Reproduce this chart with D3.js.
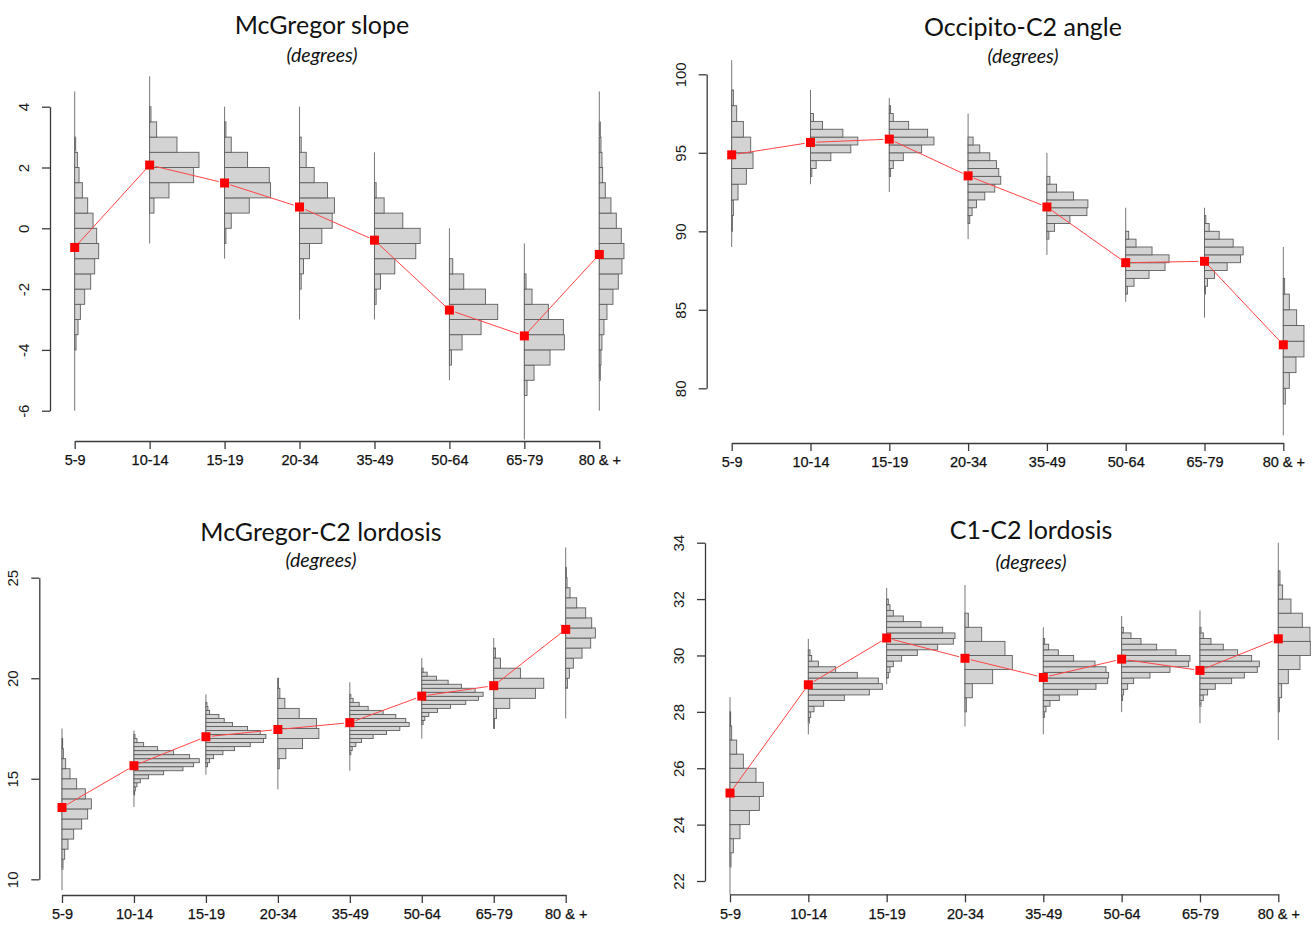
<!DOCTYPE html>
<html>
<head>
<meta charset="utf-8">
<script src="https://cdn.jsdelivr.net/npm/d3@7"></script>
<style>
  body { margin: 0; background: #fff; }
  svg text { font-family: "Liberation Sans", Arial, sans-serif; fill: #111; }
  .title { font-family: Lato, "Open Sans", sans-serif; font-size: 25px; }
  .subtitle { font-family: Lato, "Open Sans", sans-serif; font-size: 19.5px; font-style: italic; }
</style>
</head>
<body>
<svg id="chart" width="1314" height="927"></svg>
<script>
// age groups on the x axis of every panel
const ageGroups = ["5-9", "10-14", "15-19", "20-34", "35-49", "50-64", "65-79", "80 & +"];

// McGregor slope
const slopeTicks = [-6, -4, -2, 0, 2, 4];
const slopeMeans = [-0.63, 2.08, 1.49, 0.70, -0.39, -2.69, -3.54, -0.86];
const slopeRanges = [[-6, 4.5], [-0.5, 5], [-1, 4], [-3, 4], [-3, 2.5], [-5, 0], [-6.95, -0.5], [-6, 4.5]];
const slopeBinStart = [-4, 0.5, -0.5, -2, -2.5, -4.5, -5.5, -5];
const slopeBinWidth = [0.5, 0.5, 0.5, 0.5, 0.5, 0.5, 0.5, 0.5];
const slopeFreq = [
  [4, 10, 17, 30, 48, 60, 72, 66, 55, 39, 23, 13, 8, 3],
  [13, 58, 132, 148, 82, 21, 4],
  [4, 20, 74, 138, 134, 69, 20, 4],
  [5, 12, 30, 67, 98, 105, 84, 44, 20, 5],
  [5, 18, 61, 124, 137, 85, 29, 5],
  [6, 38, 95, 145, 108, 43, 10],
  [8, 29, 77, 120, 117, 72, 23, 5],
  [3, 5, 8, 14, 23, 41, 57, 68, 74, 66, 51, 35, 18, 10, 8, 5, 3]
];

// Occipito-C2 angle
const angleTicks = [80, 85, 90, 95, 100];
const angleMeans = [94.87, 95.66, 95.87, 93.53, 91.55, 88.0, 88.09, 82.77];
const angleRanges = [[89, 100.9], [93, 99], [92.5, 98.5], [89.5, 97.5], [88.5, 95], [85.5, 91.5], [84.5, 91.5], [77, 89]];
const angleBinStart = [90, 93.5, 93.5, 90.5, 89.5, 86, 86, 79];
const angleBinWidth = [1, 0.5, 0.5, 0.5, 0.5, 0.5, 0.5, 1];
const angleFreq = [
  [2, 5, 19, 44, 64, 57, 35, 15, 5],
  [4, 17, 61, 121, 142, 97, 36, 9],
  [4, 12, 42, 97, 134, 115, 58, 12, 4],
  [5, 12, 25, 50, 80, 98, 92, 85, 65, 35, 15],
  [6, 23, 69, 120, 123, 80, 29, 9],
  [5, 25, 70, 118, 130, 79, 31, 9],
  [3, 9, 30, 68, 108, 116, 86, 44, 14, 4],
  [6, 18, 38, 62, 62, 40, 18, 4]
];

// McGregor-C2 lordosis
const mcc2Ticks = [10, 15, 20, 25];
const mcc2Means = [13.57, 15.65, 17.09, 17.45, 17.79, 19.11, 19.63, 22.43];
const mcc2Ranges = [[9.46, 17.5], [13.6, 17.4], [15.2, 19.2], [14.47, 20], [15.4, 19.8], [17, 21], [17.5, 22], [18, 26.5]];
const mcc2BinStart = [10.5, 14.2, 15.6, 15.5, 16.2, 17.7, 17.5, 19.5];
const mcc2BinWidth = [0.5, 0.2, 0.2, 0.5, 0.2, 0.2, 0.5, 0.5];
const mcc2Freq = [
  [3, 8, 18, 35, 59, 77, 88, 70, 44, 24, 11, 4, 2],
  [2, 4, 9, 19, 44, 89, 147, 179, 196, 167, 119, 71, 29, 9, 3],
  [5, 11, 23, 51, 86, 133, 173, 180, 163, 125, 80, 55, 39, 11, 6, 3],
  [4, 24, 74, 123, 116, 64, 21, 6, 2],
  [3, 7, 18, 35, 70, 110, 150, 178, 168, 138, 100, 55, 28, 10, 3],
  [4, 9, 21, 47, 86, 132, 170, 184, 160, 119, 79, 44, 16, 4],
  [2, 8, 48, 125, 150, 80, 20, 5],
  [5, 11, 23, 49, 75, 89, 78, 60, 33, 13, 4, 2]
];

// C1-C2 lordosis
const c1c2Ticks = [22, 24, 26, 28, 30, 32, 34];
const c1c2Means = [25.12, 28.96, 30.62, 29.9, 29.22, 29.87, 29.47, 30.59];
const c1c2Ranges = [[21.53, 28.52], [27.2, 30.59], [28.98, 32.4], [27.48, 32.5], [27.2, 31], [27.99, 31.4], [27.6, 31.6], [27, 34]];
const c1c2BinStart = [22.5, 27.6, 29.2, 28, 27.8, 28.4, 28.2, 28];
const c1c2BinWidth = [0.5, 0.2, 0.2, 0.5, 0.2, 0.2, 0.2, 0.5];
const c1c2Freq = [
  [3, 10, 30, 58, 88, 100, 78, 40, 20, 5, 2],
  [3, 7, 17, 46, 108, 183, 222, 210, 147, 82, 30, 10, 5],
  [5, 10, 20, 45, 92, 153, 200, 205, 168, 103, 50, 20, 10, 5],
  [4, 22, 83, 142, 120, 50, 10],
  [3, 8, 20, 48, 103, 158, 193, 196, 188, 155, 91, 45, 16, 4],
  [3, 6, 18, 36, 85, 145, 201, 205, 163, 105, 58, 28, 5],
  [3, 10, 23, 46, 95, 133, 172, 178, 155, 113, 70, 33, 10, 3],
  [3, 10, 30, 65, 96, 95, 72, 38, 13, 5]
];

const svg = d3.select("#chart");
const axisColor = "#3a3a3a";

function drawPanel(p) {
  const g = svg.append("g");
  const x = d3.scalePoint().domain(ageGroups).range([p.x0, p.x1]);
  const y = d3.scaleLinear().domain(d3.extent(p.ticks)).range([p.yBottom, p.yTop]);
  const w = d3.scaleLinear().domain([0, 300]).range([0, 100]);

  g.append("text").attr("class", "title")
    .attr("x", p.titleX).attr("y", p.titleY)
    .attr("text-anchor", "middle").text(p.title);
  g.append("text").attr("class", "subtitle")
    .attr("x", p.titleX).attr("y", p.titleY + p.subGap)
    .attr("text-anchor", "middle").text("(degrees)");

  // y axis, labels rotated like base R (plain hyphen minus)
  const yAxis = g.append("g")
    .attr("transform", `translate(${p.axisX},0)`)
    .call(d3.axisLeft(y).tickValues(p.ticks).tickFormat(d => String(d)).tickSize(8).tickSizeOuter(0));
  yAxis.selectAll("path, line").attr("stroke", axisColor).attr("stroke-width", 1.3);
  yAxis.selectAll("text")
    .attr("transform", "rotate(-90)")
    .attr("x", 0).attr("y", -21).attr("dy", 0)
    .attr("text-anchor", "middle")
    .style("font-size", "15px")
    .style("fill", "#1a1a1a");

  // x axis
  const xAxis = g.append("g")
    .attr("transform", `translate(0,${p.xAxisY})`)
    .call(d3.axisBottom(x).tickSize(8).tickSizeOuter(0));
  xAxis.selectAll("path, line").attr("stroke", axisColor).attr("stroke-width", 1.3);
  xAxis.selectAll("text")
    .attr("y", 14)
    .style("font-size", "14.5px")
    .style("fill", "#111")
    .style("stroke", "#111")
    .style("stroke-width", 0.25);

  // thin vertical range line for each group
  g.append("g").selectAll("line")
    .data(ageGroups)
    .join("line")
    .attr("x1", d => x(d)).attr("x2", d => x(d))
    .attr("y1", (d, i) => y(p.ranges[i][0]))
    .attr("y2", (d, i) => y(p.ranges[i][1]))
    .attr("stroke", "#777")
    .attr("stroke-width", 1);

  // sideways histograms
  const bins = [];
  ageGroups.forEach((grp, i) => {
    p.freq[i].forEach((c, k) => {
      const lo = p.binStart[i] + k * p.binWidth[i];
      bins.push({ grp, lo, hi: lo + p.binWidth[i], c });
    });
  });
  g.append("g").selectAll("rect")
    .data(bins)
    .join("rect")
    .attr("x", d => x(d.grp))
    .attr("y", d => y(d.hi))
    .attr("width", d => w(d.c))
    .attr("height", d => y(d.lo) - y(d.hi))
    .attr("fill", "#d3d3d3")
    .attr("stroke", "#5e5e5e")
    .attr("stroke-width", 0.9);

  // mean line, R type="b" style with gaps at the points
  const pts = ageGroups.map((grp, i) => [x(grp), y(p.means[i])]);
  const gap = 6;
  const segs = d3.pairs(pts).map(([a, b]) => {
    const dx = b[0] - a[0], dy = b[1] - a[1];
    const len = Math.hypot(dx, dy);
    const ux = dx / len, uy = dy / len;
    return [a[0] + ux * gap, a[1] + uy * gap, b[0] - ux * gap, b[1] - uy * gap];
  });
  g.append("g").selectAll("line")
    .data(segs)
    .join("line")
    .attr("x1", d => d[0]).attr("y1", d => d[1])
    .attr("x2", d => d[2]).attr("y2", d => d[3])
    .attr("stroke", "#f44")
    .attr("stroke-width", 1);

  const sz = 9;
  g.append("g").selectAll("rect")
    .data(ageGroups)
    .join("rect")
    .attr("x", d => x(d) - sz / 2)
    .attr("y", (d, i) => y(p.means[i]) - sz / 2)
    .attr("width", sz).attr("height", sz)
    .attr("fill", "#ff0000");
}

drawPanel({
  title: "McGregor slope", titleX: 322, titleY: 34, subGap: 28,
  ticks: slopeTicks, means: slopeMeans, ranges: slopeRanges,
  binStart: slopeBinStart, binWidth: slopeBinWidth, freq: slopeFreq,
  axisX: 50, yTop: 106.7, yBottom: 410.7, x0: 74.7, x1: 599.3, xAxisY: 441
});

drawPanel({
  title: "Occipito-C2 angle", titleX: 1023, titleY: 36, subGap: 27,
  ticks: angleTicks, means: angleMeans, ranges: angleRanges,
  binStart: angleBinStart, binWidth: angleBinWidth, freq: angleFreq,
  axisX: 706.7, yTop: 74.3, yBottom: 388.3, x0: 731.7, x1: 1283.3, xAxisY: 443
});

drawPanel({
  title: "McGregor-C2 lordosis", titleX: 321, titleY: 541, subGap: 26,
  ticks: mcc2Ticks, means: mcc2Means, ranges: mcc2Ranges,
  binStart: mcc2BinStart, binWidth: mcc2BinWidth, freq: mcc2Freq,
  axisX: 39.3, yTop: 577.7, yBottom: 879.3, x0: 62, x1: 565.7, xAxisY: 895
});

drawPanel({
  title: "C1-C2 lordosis", titleX: 1031, titleY: 539, subGap: 30,
  ticks: c1c2Ticks, means: c1c2Means, ranges: c1c2Ranges,
  binStart: c1c2BinStart, binWidth: c1c2BinWidth, freq: c1c2Freq,
  axisX: 705, yTop: 542.7, yBottom: 881, x0: 730, x1: 1278.3, xAxisY: 894.3
});
</script>
</body>
</html>
